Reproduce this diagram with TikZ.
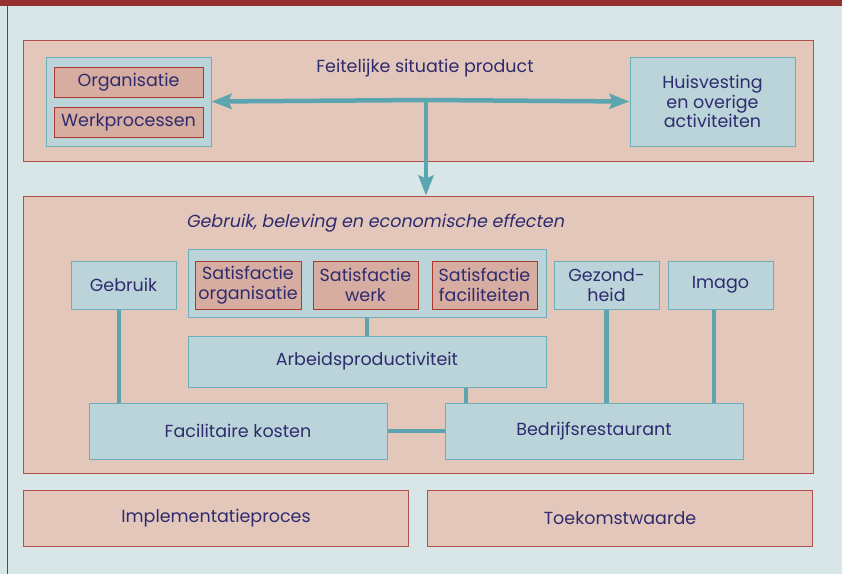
\documentclass[tikz,border=0pt]{standalone}
\usepackage{fontspec}
\setmainfont{Poppins}
\newfontfamily\slantfont{Poppins}[FakeSlant=0.2]
\usetikzlibrary{arrows.meta,positioning,calc}
\definecolor{bgblue}{RGB}{217,230,231}
\definecolor{barred}{RGB}{149,50,48}
\definecolor{panelfill}{RGB}{227,199,187}
\definecolor{paneldraw}{RGB}{176,80,74}
\definecolor{rosefill}{RGB}{214,173,160}
\definecolor{rosedraw}{RGB}{168,58,50}
\definecolor{boxfill}{RGB}{186,212,218}
\definecolor{boxdraw}{RGB}{109,175,185}
\definecolor{linkcol}{RGB}{90,165,176}
\definecolor{txtcol}{RGB}{46,43,110}

\begin{document}
\begin{tikzpicture}[
    x=1pt, y=-1pt,
    every node/.style={text=txtcol, font=\fontsize{17.5}{19.5}\selectfont, inner sep=0pt},
    panel/.style={rectangle, draw=paneldraw, fill=panelfill, line width=1pt},
    block/.style={rectangle, draw=boxdraw, fill=boxfill, line width=1pt, align=center},
    subblock/.style={rectangle, draw=rosedraw, fill=rosefill, line width=1pt, align=center},
    link/.style={draw=linkcol, line width=4.5pt},
    arrow/.style={link, -{Stealth[length=20pt, width=15pt, inset=3pt]}}
]
    % Background
    \useasboundingbox (0,0) rectangle (842,574);
    \fill[bgblue] (0,0) rectangle (842,574);
    \fill[barred] (0,0) rectangle (842,6);
    \draw[barred, line width=1pt] (7.5,6) -- (7.5,574);

    % Upper panel
    \node[panel, minimum width=790pt, minimum height=121pt] (toppanel) at (418,100.5) {};
    \node (toptitle) at (425,68) {Feitelijke situatie product};
    \node[block, minimum width=165pt, minimum height=89pt] (situatie) at (128.5,101.5) {};
    \node[subblock, minimum width=149pt, minimum height=30pt] (org) at (128.5,82) {Organisatie};
    \node[subblock, minimum width=149pt, minimum height=30pt] (werk) at (128.5,122) {Werkprocessen};
    \node[block, minimum width=165pt, minimum height=89pt] (huis) at (712.5,101.5) {Huisvesting\\en overige\\activiteiten};

    % Lower panel
    \node[panel, minimum width=790pt, minimum height=277pt] (lowpanel) at (418,334.5) {};
    \node (lowtitle) at (375,223) {\slantfont Gebruik, beleving en economische effecten};
    \node[block, minimum width=358pt, minimum height=68pt] (satis) at (367,283) {};
    \node[subblock, minimum width=106pt, minimum height=48pt] (satorg) at (248,285) {Satisfactie\\organisatie};
    \node[subblock, minimum width=105pt, minimum height=48pt] (satwerk) at (365.5,285) {Satisfactie\\werk};
    \node[subblock, minimum width=105pt, minimum height=48pt] (satfac) at (484.5,285) {Satisfactie\\faciliteiten};
    \node[block, minimum width=105pt, minimum height=48pt] (gebruik) at (123.5,285) {Gebruik};
    \node[block, minimum width=105pt, minimum height=48pt] (gezond) at (606.5,285) {Gezond-\\heid};
    \node[block, minimum width=105pt, minimum height=48pt] (imago) at (720.5,285) {Imago};
    \node[block, minimum width=358pt, minimum height=51pt] (arbeid) at (367,361.5) {Arbeidsproductiviteit};
    \node[block, minimum width=298pt, minimum height=56pt] (kosten) at (238,431) {Facilitaire kosten};
    \node[block, minimum width=298pt, minimum height=56pt] (restaurant) at (594,431) {Bedrijfsrestaurant};

    % Bottom panels
    \node[panel, minimum width=385.5pt, minimum height=56pt] (impl) at (216,518) {Implementatieproces};
    \node[panel, minimum width=385.5pt, minimum height=56pt] (toekomst) at (620,518) {Toekomstwaarde};

    % Arrows
    \coordinate (split) at (426,100);
    \draw[arrow] (split) -- (situatie.east);
    \draw[arrow] (split) -- (huis.west);
    \draw[arrow] (split) -- (split |- lowpanel.north);

    % Links
    \draw[link] ([xshift=-4.5pt]gebruik.south) -- ([xshift=-4.5pt]gebruik.south |- kosten.north);
    \draw[link] (satis.south) -- (arbeid.north);
    \draw[link] ([xshift=99pt]arbeid.south) -- ([xshift=99pt]arbeid.south |- restaurant.north);
    \draw[link] (gezond.south) -- (gezond.south |- restaurant.north);
    \draw[link] ([xshift=-6.5pt]imago.south) -- ([xshift=-6.5pt]imago.south |- restaurant.north);
    \draw[link] (kosten.east) -- (restaurant.west);
\end{tikzpicture}
\end{document}
